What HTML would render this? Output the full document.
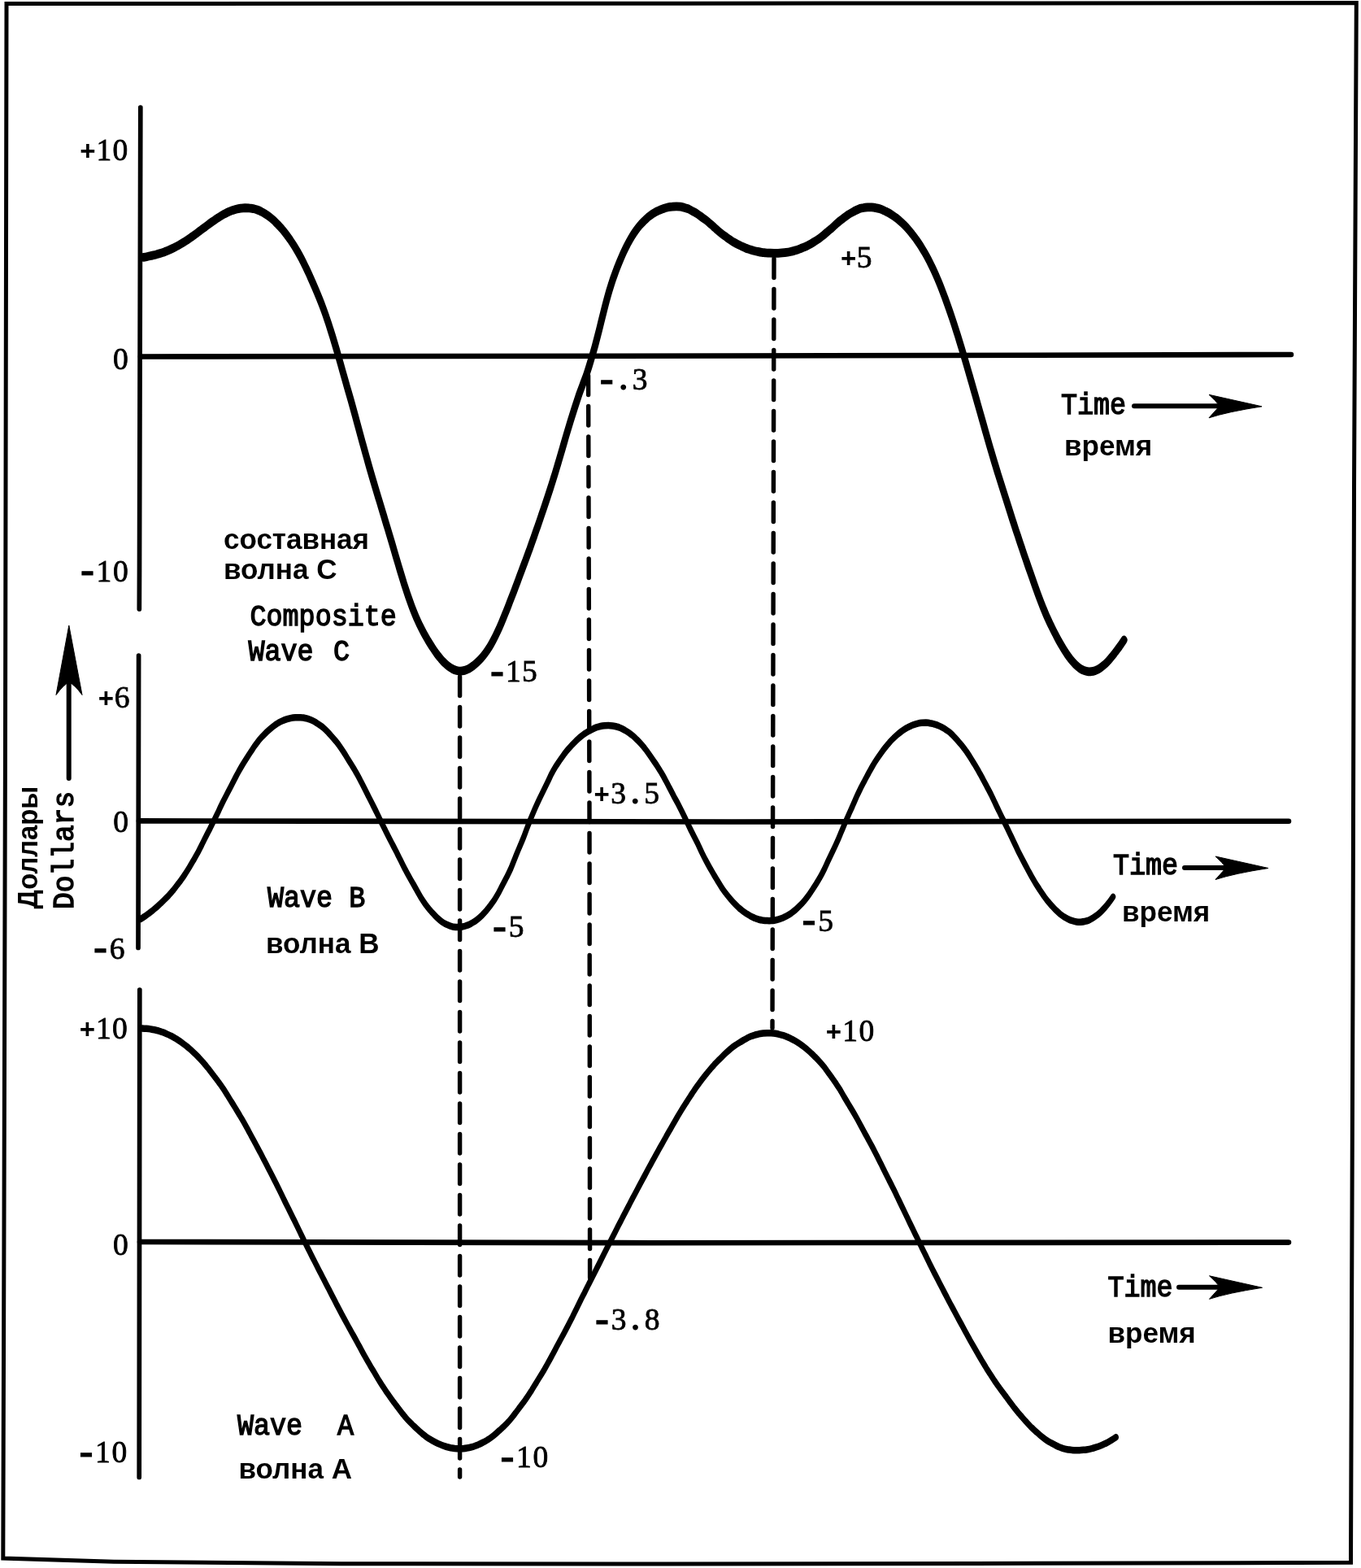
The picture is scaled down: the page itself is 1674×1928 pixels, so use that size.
<!DOCTYPE html>
<html lang="ru">
<head>
<meta charset="utf-8">
<title>Composite Wave C / Wave B / Wave A</title>
<style>
html,body{margin:0;padding:0;background:#fff;}
body{width:1674px;height:1928px;overflow:hidden;}
svg{display:block;}
.fr{fill:none;stroke:#000;stroke-width:5;stroke-linejoin:miter;}
.ax{fill:none;stroke:#000;stroke-width:5.7;stroke-linecap:round;}
.zl{fill:none;stroke:#000;stroke-width:6.6;stroke-linecap:round;}
.cv{fill:none;stroke:#000;stroke-width:8.1;stroke-linecap:round;stroke-linejoin:round;}
.cb{stroke-width:6.4;}
.da{fill:none;stroke:#000;stroke-width:5.4;stroke-linecap:round;stroke-dasharray:23.6 13.9;}
.s6{fill:none;stroke:#000;stroke-width:6;stroke-linecap:round;}
.f{fill:#000;stroke:#000;stroke-width:1;stroke-linejoin:round;}
.m{font-family:"Liberation Mono", monospace;font-size:33.4px;fill:#000;stroke:#000;stroke-width:1.3px;}
.r{font-family:"Liberation Sans", sans-serif;font-size:35px;font-weight:bold;fill:#000;}
.n{font-family:"Liberation Serif",serif;font-size:37.5px;fill:#000;stroke:#000;stroke-width:0.8px;}
.hy{font-family:"Liberation Sans",sans-serif;font-size:54px;stroke-width:1px;}
.pl{font-family:"Liberation Sans",sans-serif;font-weight:bold;font-size:33px;stroke-width:0;}
.dt{font-size:58px;stroke-width:0;}
</style>
</head>
<body>
<svg width="1674" height="1928" viewBox="0 0 1674 1928">
<rect x="0" y="0" width="1674" height="1928" fill="#fff"/>
<path class="fr" d="M8 4.5 L840 4.2 L1668.3 3.6 L1665.5 600 L1664 1200 L1661.5 1921.3 L1200 1922.5 L820 1923 L420 1922.7 L140 1920.2 L3.8 1916 L5 1500 L6.5 900 Z"/>
<path class="ax" d="M172.8 132 L171.5 700 L171.3 749"/>
<path class="ax" d="M170.6 806 L170 1165.5"/>
<path class="ax" d="M171.8 1217 L171.2 1816.5"/>
<path class="zl" d="M173 438.5 L900 437.5 L1588 436"/>
<path class="zl" d="M171 1009.4 L900 1010.5 L1585 1009.7"/>
<path class="zl" d="M172 1527 L800 1528.2 L1585 1527.6"/>
<path class="da" d="M565.6 832 L565.6 1816"/>
<path class="da" d="M723.6 462 L725 1000 L725.6 1571"/>
<path class="da" d="M952 318 L950 1264"/>
<g transform="scale(1 1.330)">
<path class="cv" d="M176.3 237.9 C177.1 237.8 179.6 237.5 181.3 237.2 C183.0 237.0 184.6 236.7 186.3 236.4 C188.0 236.1 189.6 235.8 191.3 235.5 C193.0 235.1 194.7 234.8 196.3 234.4 C198.0 234.0 199.7 233.7 201.3 233.2 C203.0 232.8 204.7 232.2 206.3 231.7 C208.0 231.2 209.7 230.6 211.3 230.0 C213.0 229.4 214.7 228.8 216.3 228.1 C218.0 227.4 219.7 226.7 221.3 226.0 C223.0 225.3 224.7 224.6 226.3 223.8 C228.0 223.0 229.7 222.1 231.4 221.3 C233.0 220.4 234.7 219.6 236.4 218.7 C238.0 217.9 239.7 216.9 241.4 216.0 C243.0 215.1 244.7 214.1 246.4 213.2 C248.0 212.2 249.7 211.3 251.4 210.4 C253.0 209.4 254.7 208.4 256.4 207.5 C258.0 206.6 259.7 205.7 261.4 204.8 C263.1 204.0 264.7 203.0 266.4 202.2 C268.1 201.4 269.7 200.6 271.4 199.8 C273.1 199.1 274.7 198.3 276.4 197.7 C278.1 197.0 279.7 196.4 281.4 195.8 C283.1 195.3 284.7 194.8 286.4 194.3 C288.1 193.9 289.7 193.5 291.4 193.2 C293.1 192.9 294.8 192.7 296.4 192.5 C298.1 192.4 299.8 192.3 301.4 192.2 C303.1 192.2 304.8 192.2 306.4 192.4 C308.1 192.5 309.8 192.7 311.4 192.9 C313.1 193.2 314.8 193.6 316.4 194.0 C318.1 194.5 319.8 195.0 321.4 195.7 C323.1 196.3 324.8 197.0 326.4 197.8 C328.1 198.6 329.8 199.5 331.5 200.5 C333.1 201.4 334.8 202.5 336.5 203.6 C338.1 204.8 339.8 206.0 341.5 207.3 C343.1 208.6 344.8 209.9 346.5 211.4 C348.1 212.9 349.8 214.4 351.5 216.1 C353.1 217.7 354.8 219.4 356.5 221.2 C358.1 223.0 359.8 224.9 361.5 226.9 C363.2 228.9 364.8 231.0 366.5 233.2 C368.2 235.4 369.8 237.7 371.5 240.1 C373.2 242.5 374.8 245.1 376.5 247.7 C378.2 250.3 379.8 253.1 381.5 255.9 C383.2 258.7 384.8 261.6 386.5 264.5 C388.2 267.4 389.8 270.3 391.5 273.4 C393.2 276.5 394.9 279.6 396.5 282.9 C398.2 286.3 399.9 289.7 401.5 293.4 C403.2 297.0 404.9 300.9 406.5 304.9 C408.2 308.8 409.9 312.9 411.5 317.1 C413.2 321.3 414.9 325.7 416.5 330.1 C418.2 334.5 419.9 339.0 421.5 343.4 C423.2 347.9 424.9 352.2 426.5 356.7 C428.2 361.1 429.9 365.4 431.6 369.9 C433.2 374.4 434.9 379.0 436.6 383.6 C438.2 388.2 439.9 392.9 441.6 397.5 C443.2 402.1 444.9 406.6 446.6 411.2 C448.2 415.7 449.9 420.3 451.6 424.7 C453.2 429.2 454.9 433.6 456.6 438.0 C458.2 442.3 459.9 446.5 461.6 450.7 C463.3 454.9 464.9 459.1 466.6 463.2 C468.3 467.4 469.9 471.6 471.6 475.7 C473.3 479.9 474.9 484.1 476.6 488.2 C478.3 492.4 479.9 496.5 481.6 500.8 C483.3 505.0 484.9 509.4 486.6 513.7 C488.3 517.9 489.9 522.2 491.6 526.4 C493.3 530.6 495.0 534.8 496.6 538.8 C498.3 542.8 500.0 546.6 501.6 550.3 C503.3 553.9 505.0 557.5 506.6 560.8 C508.3 564.2 510.0 567.3 511.6 570.2 C513.3 573.2 515.0 575.8 516.6 578.4 C518.3 581.0 520.0 583.4 521.6 585.7 C523.3 588.0 525.0 590.2 526.6 592.3 C528.3 594.4 530.0 596.5 531.7 598.4 C533.3 600.3 535.0 602.2 536.7 603.9 C538.3 605.6 540.0 607.2 541.7 608.7 C543.3 610.2 545.0 611.6 546.7 612.8 C548.3 614.0 550.0 615.1 551.7 616.1 C553.3 617.0 555.0 617.8 556.7 618.5 C558.3 619.1 560.0 619.6 561.7 619.9 C563.4 620.2 565.0 620.4 566.7 620.4 C568.4 620.4 570.0 620.1 571.7 619.8 C573.4 619.4 575.0 618.8 576.7 618.2 C578.4 617.5 580.0 616.6 581.7 615.7 C583.4 614.7 585.0 613.7 586.7 612.5 C588.4 611.3 590.0 610.1 591.7 608.7 C593.4 607.3 595.0 605.8 596.7 604.1 C598.4 602.4 600.1 600.6 601.7 598.6 C603.4 596.6 605.1 594.3 606.7 592.0 C608.4 589.6 610.1 587.1 611.7 584.4 C613.4 581.8 615.1 578.9 616.7 576.0 C618.4 573.0 620.1 569.9 621.7 566.8 C623.4 563.7 625.1 560.5 626.7 557.2 C628.4 554.0 630.1 550.7 631.8 547.4 C633.4 544.1 635.1 540.7 636.8 537.4 C638.4 534.0 640.1 530.6 641.8 527.3 C643.4 523.9 645.1 520.6 646.8 517.2 C648.4 513.9 650.1 510.4 651.8 507.0 C653.4 503.5 655.1 499.9 656.8 496.4 C658.4 492.8 660.1 489.2 661.8 485.5 C663.5 481.9 665.1 478.2 666.8 474.5 C668.5 470.8 670.1 467.1 671.8 463.3 C673.5 459.5 675.1 455.8 676.8 451.9 C678.5 448.0 680.1 444.0 681.8 440.0 C683.5 435.9 685.1 431.7 686.8 427.4 C688.5 423.2 690.1 418.9 691.8 414.6 C693.5 410.3 695.1 405.9 696.8 401.6 C698.5 397.4 700.2 393.2 701.8 389.1 C703.5 385.0 705.2 381.1 706.8 377.2 C708.5 373.3 710.2 369.4 711.8 365.7 C713.5 362.1 715.2 358.8 716.8 355.4 C718.5 352.0 720.2 348.9 721.8 345.2 C723.5 341.4 725.2 337.3 726.8 333.1 C728.5 328.8 730.2 324.4 731.9 319.8 C733.5 315.1 735.2 310.3 736.9 305.3 C738.5 300.4 740.2 295.1 741.9 290.1 C743.5 285.2 745.2 280.1 746.9 275.5 C748.5 270.9 750.2 266.7 751.9 262.8 C753.5 258.8 755.2 255.3 756.9 251.9 C758.5 248.5 760.2 245.3 761.9 242.2 C763.6 239.1 765.2 236.2 766.9 233.4 C768.6 230.7 770.2 228.2 771.9 225.8 C773.6 223.4 775.2 221.1 776.9 219.1 C778.6 217.0 780.2 215.2 781.9 213.4 C783.6 211.6 785.2 210.0 786.9 208.5 C788.6 207.0 790.2 205.7 791.9 204.5 C793.6 203.2 795.2 202.0 796.9 200.9 C798.6 199.9 800.3 199.0 801.9 198.1 C803.6 197.3 805.3 196.5 806.9 195.8 C808.6 195.2 810.3 194.6 811.9 194.1 C813.6 193.5 815.3 193.0 816.9 192.6 C818.6 192.2 820.3 191.9 821.9 191.6 C823.6 191.3 825.3 191.1 826.9 191.0 C828.6 190.8 830.3 190.8 832.0 190.8 C833.6 190.8 835.3 190.9 837.0 191.1 C838.6 191.3 840.3 191.7 842.0 192.0 C843.6 192.4 845.3 192.7 847.0 193.2 C848.6 193.8 850.3 194.6 852.0 195.3 C853.6 196.0 855.3 196.6 857.0 197.4 C858.6 198.2 860.3 199.2 862.0 200.1 C863.7 201.0 865.3 201.9 867.0 202.8 C868.7 203.8 870.3 204.8 872.0 205.9 C873.7 206.9 875.3 208.0 877.0 209.1 C878.7 210.2 880.3 211.4 882.0 212.5 C883.7 213.7 885.3 214.7 887.0 215.7 C888.7 216.7 890.3 217.6 892.0 218.5 C893.7 219.4 895.3 220.3 897.0 221.2 C898.7 222.0 900.4 222.9 902.0 223.7 C903.7 224.4 905.4 225.1 907.0 225.7 C908.7 226.4 910.4 227.0 912.0 227.6 C913.7 228.2 915.4 228.7 917.0 229.3 C918.7 229.8 920.4 230.2 922.0 230.6 C923.7 231.0 925.4 231.4 927.0 231.8 C928.7 232.1 930.4 232.4 932.1 232.6 C933.7 232.9 935.4 233.2 937.1 233.3 C938.7 233.5 940.4 233.6 942.1 233.8 C943.7 233.9 945.4 233.9 947.1 234.0 C948.7 234.1 950.4 234.1 952.1 234.1 C953.7 234.1 955.4 234.1 957.1 234.1 C958.7 234.0 960.4 233.9 962.1 233.8 C963.8 233.7 965.4 233.6 967.1 233.4 C968.8 233.2 970.4 233.0 972.1 232.7 C973.8 232.4 975.4 232.1 977.1 231.7 C978.8 231.4 980.4 231.0 982.1 230.6 C983.8 230.1 985.4 229.7 987.1 229.1 C988.8 228.6 990.4 228.1 992.1 227.5 C993.8 226.9 995.4 226.2 997.1 225.5 C998.8 224.8 1000.5 224.0 1002.1 223.2 C1003.8 222.5 1005.5 221.7 1007.1 220.8 C1008.8 219.9 1010.5 218.9 1012.1 217.9 C1013.8 216.9 1015.5 215.8 1017.1 214.7 C1018.8 213.7 1020.5 212.7 1022.1 211.6 C1023.8 210.5 1025.5 209.3 1027.1 208.1 C1028.8 207.0 1030.5 205.7 1032.2 204.7 C1033.8 203.6 1035.5 202.7 1037.2 201.8 C1038.8 200.8 1040.5 199.9 1042.2 199.0 C1043.8 198.2 1045.5 197.4 1047.2 196.7 C1048.8 196.0 1050.5 195.3 1052.2 194.7 C1053.8 194.1 1055.5 193.4 1057.2 192.9 C1058.8 192.5 1060.5 192.3 1062.2 192.1 C1063.8 191.8 1065.5 191.7 1067.2 191.6 C1068.9 191.6 1070.5 191.6 1072.2 191.6 C1073.9 191.7 1075.5 191.9 1077.2 192.2 C1078.9 192.4 1080.5 192.7 1082.2 193.1 C1083.9 193.5 1085.5 194.0 1087.2 194.6 C1088.9 195.1 1090.5 195.8 1092.2 196.5 C1093.9 197.2 1095.5 197.9 1097.2 198.7 C1098.9 199.5 1100.6 200.4 1102.2 201.4 C1103.9 202.3 1105.6 203.4 1107.2 204.5 C1108.9 205.6 1110.6 206.7 1112.2 208.0 C1113.9 209.2 1115.6 210.6 1117.2 212.0 C1118.9 213.5 1120.6 215.0 1122.2 216.6 C1123.9 218.2 1125.6 219.8 1127.2 221.6 C1128.9 223.4 1130.6 225.2 1132.3 227.2 C1133.9 229.2 1135.6 231.3 1137.3 233.5 C1138.9 235.6 1140.6 237.9 1142.3 240.3 C1143.9 242.7 1145.6 245.3 1147.3 247.9 C1148.9 250.6 1150.6 253.3 1152.3 256.3 C1153.9 259.2 1155.6 262.2 1157.3 265.4 C1158.9 268.6 1160.6 271.9 1162.3 275.3 C1163.9 278.7 1165.6 282.2 1167.3 285.8 C1169.0 289.4 1170.6 293.1 1172.3 296.9 C1174.0 300.7 1175.6 304.6 1177.3 308.6 C1179.0 312.6 1180.6 316.7 1182.3 320.8 C1184.0 325.0 1185.6 329.2 1187.3 333.4 C1189.0 337.7 1190.6 342.0 1192.3 346.4 C1194.0 350.7 1195.6 355.2 1197.3 359.6 C1199.0 364.0 1200.7 368.4 1202.3 372.8 C1204.0 377.2 1205.7 381.6 1207.3 386.0 C1209.0 390.4 1210.7 395.0 1212.3 399.4 C1214.0 403.8 1215.7 408.2 1217.3 412.5 C1219.0 416.8 1220.7 421.0 1222.3 425.2 C1224.0 429.4 1225.7 433.5 1227.3 437.6 C1229.0 441.7 1230.7 445.7 1232.4 449.7 C1234.0 453.6 1235.7 457.5 1237.4 461.5 C1239.0 465.4 1240.7 469.4 1242.4 473.4 C1244.0 477.3 1245.7 481.3 1247.4 485.1 C1249.0 489.0 1250.7 492.8 1252.4 496.5 C1254.0 500.3 1255.7 504.0 1257.4 507.8 C1259.0 511.5 1260.7 515.2 1262.4 518.8 C1264.0 522.5 1265.7 526.1 1267.4 529.6 C1269.1 533.2 1270.7 536.8 1272.4 540.4 C1274.1 543.9 1275.7 547.5 1277.4 550.9 C1279.1 554.3 1280.7 557.5 1282.4 560.6 C1284.1 563.7 1285.7 566.8 1287.4 569.7 C1289.1 572.5 1290.7 575.2 1292.4 577.8 C1294.1 580.4 1295.7 582.9 1297.4 585.4 C1299.1 587.8 1300.8 590.3 1302.4 592.5 C1304.1 594.8 1305.8 596.9 1307.4 598.9 C1309.1 601.0 1310.8 603.0 1312.4 604.9 C1314.1 606.7 1315.8 608.4 1317.4 610.0 C1319.1 611.5 1320.8 612.9 1322.4 614.2 C1324.1 615.4 1325.8 616.5 1327.4 617.4 C1329.1 618.3 1330.8 619.1 1332.5 619.7 C1334.1 620.2 1335.8 620.6 1337.5 620.8 C1339.1 621.0 1340.8 621.0 1342.5 620.8 C1344.1 620.7 1345.8 620.3 1347.5 619.9 C1349.1 619.4 1350.8 618.8 1352.5 618.0 C1354.1 617.2 1355.8 616.2 1357.5 615.1 C1359.1 614.1 1360.8 612.9 1362.5 611.5 C1364.1 610.2 1365.8 608.6 1367.5 607.1 C1369.2 605.6 1370.8 604.0 1372.5 602.4 C1374.2 600.7 1375.8 599.0 1377.5 597.3 C1379.2 595.5 1381.7 592.6 1382.5 591.7"/>
<path class="cv cb" d="M173.0 849.7 C173.8 849.3 176.3 848.1 178.0 847.2 C179.7 846.4 181.3 845.5 183.0 844.5 C184.7 843.6 186.3 842.6 188.0 841.6 C189.7 840.6 191.3 839.5 193.0 838.4 C194.7 837.3 196.4 836.1 198.0 834.9 C199.7 833.7 201.4 832.5 203.0 831.2 C204.7 830.0 206.4 828.8 208.0 827.4 C209.7 826.1 211.4 824.6 213.0 823.1 C214.7 821.6 216.4 819.9 218.0 818.2 C219.7 816.6 221.4 815.0 223.0 813.2 C224.7 811.5 226.4 809.7 228.0 807.7 C229.7 805.8 231.4 803.7 233.1 801.6 C234.7 799.5 236.4 797.4 238.1 795.2 C239.7 793.1 241.4 790.9 243.1 788.6 C244.7 786.2 246.4 783.7 248.1 781.2 C249.7 778.8 251.4 776.1 253.1 773.6 C254.7 771.1 256.4 768.7 258.1 766.3 C259.7 763.8 261.4 761.3 263.1 758.8 C264.7 756.2 266.4 753.6 268.1 751.0 C269.7 748.4 271.4 745.6 273.1 743.0 C274.8 740.4 276.4 738.0 278.1 735.6 C279.8 733.1 281.4 730.8 283.1 728.4 C284.8 726.0 286.4 723.4 288.1 721.0 C289.8 718.6 291.4 716.1 293.1 713.9 C294.8 711.6 296.4 709.4 298.1 707.3 C299.8 705.2 301.4 703.3 303.1 701.3 C304.8 699.3 306.4 697.4 308.1 695.5 C309.8 693.6 311.4 691.6 313.1 689.8 C314.8 688.0 316.5 686.3 318.1 684.7 C319.8 683.2 321.5 681.8 323.1 680.5 C324.8 679.2 326.5 677.9 328.1 676.7 C329.8 675.5 331.5 674.4 333.1 673.4 C334.8 672.3 336.5 671.3 338.1 670.4 C339.8 669.5 341.5 668.7 343.1 668.0 C344.8 667.3 346.5 666.7 348.1 666.2 C349.8 665.6 351.5 665.2 353.2 664.8 C354.8 664.4 356.5 664.1 358.2 663.8 C359.8 663.6 361.5 663.5 363.2 663.4 C364.8 663.3 366.5 663.3 368.2 663.3 C369.8 663.4 371.5 663.4 373.2 663.6 C374.8 663.8 376.5 664.1 378.2 664.4 C379.8 664.8 381.5 665.2 383.2 665.8 C384.8 666.3 386.5 667.0 388.2 667.8 C389.8 668.6 391.5 669.4 393.2 670.3 C394.9 671.2 396.5 672.0 398.2 673.1 C399.9 674.2 401.5 675.4 403.2 676.7 C404.9 678.0 406.5 679.5 408.2 681.0 C409.9 682.4 411.5 683.8 413.2 685.3 C414.9 686.9 416.5 688.5 418.2 690.3 C419.9 692.1 421.5 694.0 423.2 696.0 C424.9 697.9 426.5 700.0 428.2 702.0 C429.9 704.0 431.5 706.0 433.2 708.1 C434.9 710.1 436.6 712.2 438.2 714.4 C439.9 716.6 441.6 719.0 443.2 721.4 C444.9 723.7 446.6 726.2 448.2 728.6 C449.9 731.1 451.6 733.7 453.2 736.2 C454.9 738.7 456.6 741.2 458.2 743.6 C459.9 746.1 461.6 748.6 463.2 751.1 C464.9 753.7 466.6 756.3 468.2 758.9 C469.9 761.5 471.6 764.1 473.3 766.6 C474.9 769.2 476.6 771.7 478.3 774.2 C479.9 776.6 481.6 778.9 483.3 781.4 C484.9 783.8 486.6 786.2 488.3 788.7 C489.9 791.2 491.6 793.7 493.3 796.2 C494.9 798.7 496.6 801.3 498.3 803.7 C499.9 806.1 501.6 808.4 503.3 810.6 C504.9 812.9 506.6 815.0 508.3 817.2 C509.9 819.4 511.6 821.7 513.3 823.9 C515.0 826.1 516.6 828.4 518.3 830.5 C520.0 832.5 521.6 834.3 523.3 836.1 C525.0 837.8 526.6 839.4 528.3 840.9 C530.0 842.4 531.6 843.8 533.3 845.1 C535.0 846.4 536.6 847.8 538.3 848.9 C540.0 850.1 541.6 851.1 543.3 852.0 C545.0 852.9 546.6 853.6 548.3 854.3 C550.0 854.9 551.6 855.4 553.3 855.9 C555.0 856.3 556.7 856.7 558.3 857.0 C560.0 857.2 561.7 857.2 563.3 857.2 C565.0 857.2 566.7 857.1 568.3 856.8 C570.0 856.6 571.7 856.3 573.3 855.8 C575.0 855.4 576.7 854.9 578.3 854.3 C580.0 853.6 581.7 852.9 583.3 852.1 C585.0 851.3 586.7 850.3 588.3 849.3 C590.0 848.2 591.7 847.0 593.4 845.8 C595.0 844.5 596.7 843.1 598.4 841.7 C600.0 840.2 601.7 838.5 603.4 836.9 C605.0 835.2 606.7 833.5 608.4 831.5 C610.0 829.6 611.7 827.5 613.4 825.2 C615.0 822.9 616.7 820.3 618.4 817.9 C620.0 815.4 621.7 813.1 623.4 810.6 C625.0 808.1 626.7 805.7 628.4 802.8 C630.0 799.9 631.7 796.5 633.4 793.4 C635.1 790.3 636.7 787.2 638.4 784.2 C640.1 781.1 641.7 778.4 643.4 775.3 C645.1 772.1 646.7 768.6 648.4 765.3 C650.1 762.1 651.7 758.8 653.4 755.8 C655.1 752.7 656.7 749.8 658.4 746.9 C660.1 744.1 661.7 741.5 663.4 738.8 C665.1 736.1 666.7 733.6 668.4 731.0 C670.1 728.4 671.8 725.8 673.4 723.3 C675.1 720.7 676.8 717.8 678.4 715.4 C680.1 713.0 681.8 710.8 683.4 708.8 C685.1 706.7 686.8 705.0 688.4 703.1 C690.1 701.3 691.8 699.5 693.4 697.8 C695.1 696.1 696.8 694.5 698.4 693.0 C700.1 691.5 701.8 690.2 703.4 688.8 C705.1 687.5 706.8 686.2 708.4 685.0 C710.1 683.8 711.8 682.6 713.5 681.5 C715.1 680.5 716.8 679.5 718.5 678.6 C720.1 677.7 721.8 676.9 723.5 676.2 C725.1 675.5 726.8 674.8 728.5 674.2 C730.1 673.6 731.8 673.0 733.5 672.5 C735.1 672.1 736.8 671.7 738.5 671.4 C740.1 671.1 741.8 670.9 743.5 670.8 C745.1 670.7 746.8 670.6 748.5 670.6 C750.1 670.6 751.8 670.8 753.5 671.0 C755.2 671.2 756.8 671.4 758.5 671.8 C760.2 672.1 761.8 672.6 763.5 673.1 C765.2 673.7 766.8 674.4 768.5 675.1 C770.2 675.8 771.8 676.5 773.5 677.4 C775.2 678.3 776.8 679.2 778.5 680.3 C780.2 681.4 781.8 682.6 783.5 683.9 C785.2 685.1 786.8 686.4 788.5 687.8 C790.2 689.2 791.9 690.7 793.5 692.3 C795.2 693.9 796.9 695.7 798.5 697.4 C800.2 699.2 801.9 701.1 803.5 702.9 C805.2 704.8 806.9 706.5 808.5 708.4 C810.2 710.4 811.9 712.4 813.5 714.5 C815.2 716.6 816.9 718.9 818.5 721.2 C820.2 723.5 821.9 726.0 823.5 728.4 C825.2 730.8 826.9 733.3 828.5 735.7 C830.2 738.1 831.9 740.3 833.6 742.7 C835.2 745.1 836.9 747.6 838.6 750.1 C840.2 752.6 841.9 755.2 843.6 757.8 C845.2 760.4 846.9 763.1 848.6 765.7 C850.2 768.2 851.9 770.7 853.6 773.2 C855.2 775.6 856.9 778.1 858.6 780.6 C860.2 783.2 861.9 786.1 863.6 788.7 C865.2 791.2 866.9 793.7 868.6 796.1 C870.2 798.4 871.9 800.7 873.6 802.9 C875.3 805.1 876.9 807.3 878.6 809.4 C880.3 811.5 881.9 813.5 883.6 815.6 C885.3 817.6 886.9 819.8 888.6 821.6 C890.3 823.5 891.9 825.1 893.6 826.7 C895.3 828.3 896.9 829.8 898.6 831.3 C900.3 832.8 901.9 834.2 903.6 835.5 C905.3 836.8 906.9 838.0 908.6 839.2 C910.3 840.3 912.0 841.3 913.6 842.3 C915.3 843.2 917.0 844.1 918.6 844.9 C920.3 845.7 922.0 846.5 923.6 847.1 C925.3 847.8 927.0 848.3 928.6 848.9 C930.3 849.4 932.0 849.8 933.6 850.2 C935.3 850.5 937.0 850.7 938.6 850.9 C940.3 851.1 942.0 851.2 943.6 851.2 C945.3 851.3 947.0 851.3 948.6 851.2 C950.3 851.1 952.0 850.9 953.7 850.7 C955.3 850.4 957.0 850.1 958.7 849.7 C960.3 849.3 962.0 848.9 963.7 848.3 C965.3 847.7 967.0 847.1 968.7 846.3 C970.3 845.6 972.0 844.8 973.7 843.9 C975.3 843.0 977.0 842.0 978.7 841.0 C980.3 839.9 982.0 838.7 983.7 837.4 C985.3 836.2 987.0 834.9 988.7 833.4 C990.4 831.9 992.0 830.3 993.7 828.6 C995.4 826.9 997.0 825.0 998.7 823.1 C1000.4 821.2 1002.0 819.3 1003.7 817.3 C1005.4 815.2 1007.0 813.2 1008.7 811.0 C1010.4 808.7 1012.0 806.4 1013.7 803.8 C1015.4 801.3 1017.0 798.4 1018.7 795.7 C1020.4 793.0 1022.0 790.5 1023.7 787.8 C1025.4 785.2 1027.0 782.6 1028.7 779.8 C1030.4 777.0 1032.1 774.0 1033.7 771.0 C1035.4 768.1 1037.1 765.0 1038.7 762.0 C1040.4 759.1 1042.1 756.2 1043.7 753.4 C1045.4 750.5 1047.1 747.9 1048.7 745.0 C1050.4 742.2 1052.1 739.2 1053.7 736.4 C1055.4 733.6 1057.1 731.0 1058.7 728.5 C1060.4 726.0 1062.1 723.6 1063.7 721.3 C1065.4 718.9 1067.1 716.6 1068.7 714.3 C1070.4 712.0 1072.1 709.6 1073.8 707.5 C1075.4 705.4 1077.1 703.4 1078.8 701.5 C1080.4 699.7 1082.1 697.9 1083.8 696.1 C1085.4 694.4 1087.1 692.7 1088.8 691.1 C1090.4 689.5 1092.1 688.0 1093.8 686.6 C1095.4 685.1 1097.1 683.8 1098.8 682.6 C1100.4 681.4 1102.1 680.2 1103.8 679.1 C1105.4 678.1 1107.1 677.1 1108.8 676.1 C1110.5 675.2 1112.1 674.4 1113.8 673.6 C1115.5 672.8 1117.1 672.2 1118.8 671.6 C1120.5 671.0 1122.1 670.4 1123.8 670.0 C1125.5 669.6 1127.1 669.2 1128.8 668.9 C1130.5 668.6 1132.1 668.4 1133.8 668.3 C1135.5 668.2 1137.1 668.1 1138.8 668.1 C1140.5 668.2 1142.1 668.3 1143.8 668.6 C1145.5 668.8 1147.1 669.1 1148.8 669.4 C1150.5 669.8 1152.2 670.1 1153.8 670.7 C1155.5 671.2 1157.2 671.8 1158.8 672.5 C1160.5 673.2 1162.2 673.9 1163.8 674.8 C1165.5 675.6 1167.2 676.4 1168.8 677.5 C1170.5 678.6 1172.2 679.9 1173.8 681.3 C1175.5 682.6 1177.2 684.0 1178.8 685.5 C1180.5 686.9 1182.2 688.3 1183.8 689.9 C1185.5 691.5 1187.2 693.1 1188.8 694.9 C1190.5 696.7 1192.2 698.8 1193.9 700.8 C1195.5 702.8 1197.2 704.8 1198.9 706.9 C1200.5 708.9 1202.2 711.1 1203.9 713.3 C1205.5 715.5 1207.2 717.9 1208.9 720.2 C1210.5 722.5 1212.2 724.8 1213.9 727.2 C1215.5 729.5 1217.2 731.9 1218.9 734.4 C1220.5 736.9 1222.2 739.7 1223.9 742.3 C1225.5 745.0 1227.2 747.6 1228.9 750.2 C1230.6 752.8 1232.2 755.4 1233.9 757.9 C1235.6 760.5 1237.2 763.0 1238.9 765.6 C1240.6 768.2 1242.2 770.8 1243.9 773.4 C1245.6 776.1 1247.2 778.7 1248.9 781.4 C1250.6 784.0 1252.2 786.7 1253.9 789.2 C1255.6 791.7 1257.2 794.0 1258.9 796.4 C1260.6 798.8 1262.2 801.1 1263.9 803.5 C1265.6 805.8 1267.2 808.2 1268.9 810.4 C1270.6 812.6 1272.3 814.8 1273.9 816.9 C1275.6 818.9 1277.3 820.8 1278.9 822.7 C1280.6 824.6 1282.3 826.5 1283.9 828.3 C1285.6 830.1 1287.3 831.7 1288.9 833.3 C1290.6 834.8 1292.3 836.2 1293.9 837.6 C1295.6 839.0 1297.3 840.4 1298.9 841.6 C1300.6 842.8 1302.3 844.0 1303.9 845.0 C1305.6 846.0 1307.3 846.9 1308.9 847.7 C1310.6 848.5 1312.3 849.2 1314.0 849.8 C1315.6 850.4 1317.3 850.9 1319.0 851.3 C1320.6 851.7 1322.3 852.0 1324.0 852.2 C1325.6 852.4 1327.3 852.4 1329.0 852.4 C1330.6 852.3 1332.3 852.2 1334.0 851.9 C1335.6 851.6 1337.3 851.3 1339.0 850.8 C1340.6 850.2 1342.3 849.6 1344.0 848.8 C1345.6 848.1 1347.3 847.2 1349.0 846.2 C1350.7 845.3 1352.3 844.2 1354.0 843.0 C1355.7 841.8 1357.3 840.4 1359.0 839.0 C1360.7 837.6 1362.3 836.1 1364.0 834.4 C1365.7 832.8 1368.2 830.0 1369.0 829.1"/>
<path class="cv cb" d="M175.0 950.8 C175.8 950.9 178.3 950.9 180.0 951.0 C181.7 951.1 183.3 951.2 185.0 951.4 C186.6 951.6 188.3 951.8 190.0 952.1 C191.6 952.4 193.3 952.7 195.0 953.0 C196.6 953.4 198.3 953.8 200.0 954.3 C201.6 954.7 203.3 955.2 204.9 955.8 C206.6 956.3 208.3 956.9 209.9 957.6 C211.6 958.2 213.3 958.9 214.9 959.6 C216.6 960.4 218.3 961.1 219.9 962.0 C221.6 962.8 223.2 963.7 224.9 964.6 C226.6 965.5 228.2 966.5 229.9 967.5 C231.6 968.5 233.2 969.6 234.9 970.7 C236.5 971.8 238.2 973.0 239.9 974.2 C241.5 975.4 243.2 976.7 244.9 978.0 C246.5 979.3 248.2 980.7 249.9 982.1 C251.5 983.5 253.2 985.0 254.8 986.6 C256.5 988.1 258.2 989.7 259.8 991.3 C261.5 993.0 263.2 994.6 264.8 996.3 C266.5 998.0 268.2 999.6 269.8 1001.4 C271.5 1003.1 273.1 1004.9 274.8 1006.7 C276.5 1008.6 278.1 1010.6 279.8 1012.6 C281.5 1014.6 283.1 1016.7 284.8 1018.7 C286.5 1020.7 288.1 1022.7 289.8 1024.8 C291.4 1026.8 293.1 1028.9 294.8 1031.0 C296.4 1033.1 298.1 1035.2 299.8 1037.4 C301.4 1039.6 303.1 1041.9 304.8 1044.2 C306.4 1046.5 308.1 1048.8 309.7 1051.1 C311.4 1053.4 313.1 1055.7 314.7 1058.0 C316.4 1060.4 318.1 1062.7 319.7 1065.1 C321.4 1067.4 323.0 1069.8 324.7 1072.3 C326.4 1074.7 328.0 1077.1 329.7 1079.6 C331.4 1082.0 333.0 1084.5 334.7 1086.9 C336.4 1089.4 338.0 1091.8 339.7 1094.3 C341.3 1096.8 343.0 1099.3 344.7 1101.9 C346.3 1104.4 348.0 1107.1 349.7 1109.7 C351.3 1112.2 353.0 1114.7 354.7 1117.2 C356.3 1119.7 358.0 1122.2 359.6 1124.7 C361.3 1127.3 363.0 1129.8 364.6 1132.3 C366.3 1134.9 368.0 1137.5 369.6 1140.1 C371.3 1142.7 373.0 1145.3 374.6 1147.9 C376.3 1150.4 377.9 1152.9 379.6 1155.4 C381.3 1157.8 382.9 1160.3 384.6 1162.8 C386.3 1165.3 387.9 1167.8 389.6 1170.2 C391.3 1172.7 392.9 1175.1 394.6 1177.5 C396.2 1180.0 397.9 1182.4 399.6 1184.8 C401.2 1187.2 402.9 1189.6 404.6 1192.0 C406.2 1194.5 407.9 1196.9 409.5 1199.3 C411.2 1201.7 412.9 1204.2 414.5 1206.6 C416.2 1209.0 417.9 1211.4 419.5 1213.7 C421.2 1216.1 422.9 1218.4 424.5 1220.7 C426.2 1223.0 427.8 1225.3 429.5 1227.6 C431.2 1229.8 432.8 1232.1 434.5 1234.3 C436.2 1236.6 437.8 1238.8 439.5 1241.1 C441.2 1243.4 442.8 1245.8 444.5 1248.1 C446.1 1250.4 447.8 1252.7 449.5 1254.9 C451.1 1257.1 452.8 1259.3 454.5 1261.4 C456.1 1263.6 457.8 1265.7 459.5 1267.7 C461.1 1269.8 462.8 1272.0 464.4 1274.0 C466.1 1276.0 467.8 1278.1 469.4 1280.0 C471.1 1282.0 472.8 1283.9 474.4 1285.8 C476.1 1287.7 477.8 1289.4 479.4 1291.2 C481.1 1293.0 482.7 1294.7 484.4 1296.4 C486.1 1298.0 487.7 1299.7 489.4 1301.3 C491.1 1303.0 492.7 1304.7 494.4 1306.3 C496.1 1307.9 497.7 1309.5 499.4 1310.9 C501.0 1312.4 502.7 1313.7 504.4 1314.9 C506.0 1316.2 507.7 1317.4 509.4 1318.6 C511.0 1319.8 512.7 1320.9 514.3 1322.0 C516.0 1323.2 517.7 1324.3 519.3 1325.4 C521.0 1326.4 522.7 1327.5 524.3 1328.4 C526.0 1329.3 527.7 1330.1 529.3 1330.8 C531.0 1331.6 532.6 1332.3 534.3 1332.9 C536.0 1333.6 537.6 1334.2 539.3 1334.8 C541.0 1335.3 542.6 1335.9 544.3 1336.3 C546.0 1336.8 547.6 1337.2 549.3 1337.6 C550.9 1337.9 552.6 1338.2 554.3 1338.5 C555.9 1338.7 557.6 1338.9 559.3 1339.1 C560.9 1339.2 562.6 1339.3 564.3 1339.3 C565.9 1339.3 567.6 1339.3 569.2 1339.2 C570.9 1339.1 572.6 1339.0 574.2 1338.7 C575.9 1338.5 577.6 1338.3 579.2 1338.0 C580.9 1337.7 582.6 1337.3 584.2 1336.8 C585.9 1336.4 587.5 1335.9 589.2 1335.3 C590.9 1334.8 592.5 1334.2 594.2 1333.5 C595.9 1332.9 597.5 1332.2 599.2 1331.4 C600.8 1330.6 602.5 1329.8 604.2 1328.8 C605.8 1327.9 607.5 1326.9 609.2 1325.8 C610.8 1324.8 612.5 1323.6 614.2 1322.5 C615.8 1321.4 617.5 1320.3 619.1 1319.1 C620.8 1317.9 622.5 1316.7 624.1 1315.4 C625.8 1314.1 627.5 1312.6 629.1 1311.1 C630.8 1309.5 632.5 1307.9 634.1 1306.2 C635.8 1304.6 637.4 1302.9 639.1 1301.2 C640.8 1299.6 642.4 1298.0 644.1 1296.3 C645.8 1294.5 647.4 1292.8 649.1 1290.9 C650.8 1289.1 652.4 1287.1 654.1 1285.1 C655.7 1283.1 657.4 1281.0 659.1 1279.0 C660.7 1276.9 662.4 1274.9 664.1 1272.8 C665.7 1270.8 667.4 1268.8 669.1 1266.7 C670.7 1264.5 672.4 1262.4 674.0 1260.1 C675.7 1257.9 677.4 1255.5 679.0 1253.2 C680.7 1250.8 682.4 1248.5 684.0 1246.1 C685.7 1243.8 687.3 1241.4 689.0 1239.1 C690.7 1236.8 692.3 1234.4 694.0 1232.1 C695.7 1229.7 697.3 1227.4 699.0 1225.0 C700.7 1222.6 702.3 1220.2 704.0 1217.7 C705.6 1215.2 707.3 1212.6 709.0 1210.1 C710.6 1207.6 712.3 1205.0 714.0 1202.4 C715.6 1199.9 717.3 1197.5 719.0 1195.0 C720.6 1192.5 722.3 1190.0 723.9 1187.6 C725.6 1185.1 727.3 1182.6 728.9 1180.2 C730.6 1177.7 732.3 1175.2 733.9 1172.7 C735.6 1170.3 737.3 1167.8 738.9 1165.3 C740.6 1162.8 742.2 1160.3 743.9 1157.8 C745.6 1155.3 747.2 1152.8 748.9 1150.4 C750.6 1147.9 752.2 1145.4 753.9 1143.0 C755.6 1140.5 757.2 1138.1 758.9 1135.6 C760.5 1133.2 762.2 1130.8 763.9 1128.4 C765.5 1125.9 767.2 1123.5 768.9 1121.1 C770.5 1118.7 772.2 1116.3 773.9 1113.9 C775.5 1111.5 777.2 1109.1 778.8 1106.7 C780.5 1104.4 782.2 1102.0 783.8 1099.7 C785.5 1097.3 787.2 1095.0 788.8 1092.6 C790.5 1090.3 792.1 1087.9 793.8 1085.6 C795.5 1083.2 797.1 1080.9 798.8 1078.6 C800.5 1076.3 802.1 1073.9 803.8 1071.7 C805.5 1069.4 807.1 1067.1 808.8 1064.9 C810.4 1062.6 812.1 1060.4 813.8 1058.2 C815.4 1056.0 817.1 1053.7 818.8 1051.5 C820.4 1049.3 822.1 1047.1 823.8 1044.9 C825.4 1042.8 827.1 1040.6 828.7 1038.4 C830.4 1036.2 832.1 1034.0 833.7 1031.9 C835.4 1029.8 837.1 1027.7 838.7 1025.7 C840.4 1023.6 842.1 1021.7 843.7 1019.7 C845.4 1017.7 847.0 1015.8 848.7 1013.9 C850.4 1012.0 852.0 1010.0 853.7 1008.2 C855.4 1006.3 857.0 1004.6 858.7 1002.9 C860.4 1001.1 862.0 999.5 863.7 997.8 C865.3 996.2 867.0 994.6 868.7 993.0 C870.3 991.4 872.0 989.9 873.7 988.4 C875.3 987.0 877.0 985.6 878.6 984.2 C880.3 982.9 882.0 981.6 883.6 980.3 C885.3 979.1 887.0 977.8 888.6 976.6 C890.3 975.3 892.0 974.1 893.6 973.0 C895.3 971.8 896.9 970.7 898.6 969.6 C900.3 968.6 901.9 967.7 903.6 966.8 C905.3 965.9 906.9 965.1 908.6 964.3 C910.3 963.5 911.9 962.7 913.6 962.0 C915.2 961.3 916.9 960.5 918.6 959.9 C920.2 959.2 921.9 958.6 923.6 958.1 C925.2 957.6 926.9 957.2 928.6 956.8 C930.2 956.5 931.9 956.2 933.5 955.9 C935.2 955.7 936.9 955.5 938.5 955.3 C940.2 955.2 941.9 955.1 943.5 955.0 C945.2 955.0 946.9 955.0 948.5 955.1 C950.2 955.2 951.8 955.3 953.5 955.5 C955.2 955.7 956.8 955.9 958.5 956.3 C960.2 956.6 961.8 956.9 963.5 957.3 C965.1 957.7 966.8 958.2 968.5 958.7 C970.1 959.3 971.8 959.8 973.5 960.5 C975.1 961.1 976.8 961.8 978.5 962.5 C980.1 963.2 981.8 964.0 983.4 964.8 C985.1 965.7 986.8 966.6 988.4 967.6 C990.1 968.6 991.8 969.6 993.4 970.7 C995.1 971.8 996.8 972.9 998.4 974.1 C1000.1 975.3 1001.7 976.5 1003.4 977.7 C1005.1 979.0 1006.7 980.3 1008.4 981.7 C1010.1 983.1 1011.7 984.5 1013.4 986.1 C1015.1 987.7 1016.7 989.6 1018.4 991.3 C1020.0 993.0 1021.7 994.7 1023.4 996.4 C1025.0 998.2 1026.7 999.9 1028.4 1001.8 C1030.0 1003.7 1031.7 1005.6 1033.4 1007.6 C1035.0 1009.7 1036.7 1011.9 1038.3 1014.1 C1040.0 1016.2 1041.7 1018.3 1043.3 1020.4 C1045.0 1022.5 1046.7 1024.5 1048.3 1026.6 C1050.0 1028.8 1051.6 1030.9 1053.3 1033.1 C1055.0 1035.3 1056.6 1037.7 1058.3 1040.0 C1060.0 1042.3 1061.6 1044.6 1063.3 1047.0 C1065.0 1049.3 1066.6 1051.6 1068.3 1053.9 C1069.9 1056.2 1071.6 1058.5 1073.3 1060.8 C1074.9 1063.2 1076.6 1065.6 1078.3 1068.1 C1079.9 1070.5 1081.6 1073.1 1083.3 1075.6 C1084.9 1078.1 1086.6 1080.6 1088.2 1083.1 C1089.9 1085.6 1091.6 1088.1 1093.2 1090.6 C1094.9 1093.1 1096.6 1095.5 1098.2 1098.1 C1099.9 1100.6 1101.6 1103.2 1103.2 1105.8 C1104.9 1108.4 1106.5 1111.0 1108.2 1113.6 C1109.9 1116.2 1111.5 1118.8 1113.2 1121.4 C1114.9 1124.0 1116.5 1126.6 1118.2 1129.3 C1119.9 1131.9 1121.5 1134.5 1123.2 1137.0 C1124.8 1139.6 1126.5 1142.2 1128.2 1144.7 C1129.8 1147.3 1131.5 1149.9 1133.2 1152.4 C1134.8 1155.0 1136.5 1157.5 1138.2 1160.1 C1139.8 1162.6 1141.5 1165.2 1143.1 1167.7 C1144.8 1170.2 1146.5 1172.7 1148.1 1175.2 C1149.8 1177.7 1151.5 1180.1 1153.1 1182.5 C1154.8 1185.0 1156.4 1187.3 1158.1 1189.8 C1159.8 1192.2 1161.4 1194.6 1163.1 1197.0 C1164.8 1199.4 1166.4 1201.8 1168.1 1204.2 C1169.8 1206.5 1171.4 1208.9 1173.1 1211.2 C1174.7 1213.5 1176.4 1215.9 1178.1 1218.2 C1179.7 1220.5 1181.4 1222.8 1183.1 1225.1 C1184.7 1227.4 1186.4 1229.8 1188.1 1232.1 C1189.7 1234.4 1191.4 1236.7 1193.0 1238.9 C1194.7 1241.1 1196.4 1243.3 1198.0 1245.4 C1199.7 1247.6 1201.4 1249.8 1203.0 1252.0 C1204.7 1254.2 1206.4 1256.4 1208.0 1258.4 C1209.7 1260.5 1211.3 1262.5 1213.0 1264.6 C1214.7 1266.6 1216.3 1268.6 1218.0 1270.5 C1219.7 1272.5 1221.3 1274.4 1223.0 1276.3 C1224.7 1278.1 1226.3 1279.9 1228.0 1281.7 C1229.6 1283.4 1231.3 1285.1 1233.0 1286.8 C1234.6 1288.5 1236.3 1290.1 1238.0 1291.8 C1239.6 1293.5 1241.3 1295.1 1242.9 1296.8 C1244.6 1298.5 1246.3 1300.2 1247.9 1301.8 C1249.6 1303.4 1251.3 1305.0 1252.9 1306.5 C1254.6 1308.0 1256.3 1309.4 1257.9 1310.8 C1259.6 1312.3 1261.2 1313.7 1262.9 1315.0 C1264.6 1316.4 1266.2 1317.7 1267.9 1319.0 C1269.6 1320.3 1271.2 1321.4 1272.9 1322.6 C1274.6 1323.7 1276.2 1324.8 1277.9 1325.9 C1279.5 1327.0 1281.2 1328.1 1282.9 1329.1 C1284.5 1330.1 1286.2 1331.0 1287.9 1331.8 C1289.5 1332.7 1291.2 1333.3 1292.9 1334.0 C1294.5 1334.7 1296.2 1335.3 1297.8 1336.0 C1299.5 1336.6 1301.2 1337.2 1302.8 1337.8 C1304.5 1338.3 1306.2 1338.8 1307.8 1339.2 C1309.5 1339.6 1311.2 1339.8 1312.8 1340.0 C1314.5 1340.2 1316.1 1340.3 1317.8 1340.5 C1319.5 1340.6 1321.1 1340.7 1322.8 1340.7 C1324.5 1340.8 1326.1 1340.8 1327.8 1340.7 C1329.4 1340.7 1331.1 1340.6 1332.8 1340.5 C1334.4 1340.4 1336.1 1340.2 1337.8 1340.0 C1339.4 1339.8 1341.1 1339.5 1342.8 1339.2 C1344.4 1338.9 1346.1 1338.5 1347.7 1338.1 C1349.4 1337.7 1351.1 1337.3 1352.7 1336.8 C1354.4 1336.3 1356.1 1335.8 1357.7 1335.2 C1359.4 1334.6 1361.1 1334.0 1362.7 1333.3 C1364.4 1332.6 1366.0 1331.9 1367.7 1331.1 C1369.4 1330.3 1371.9 1329.1 1372.7 1328.7"/>
</g>
<path class="s6" d="M1395.0 499.3 H1504.0"/><path class="f" d="M1552.0 499.8 L1487.0 485.3 Q1496.0 493.3 1500.0 499.3 L1487.0 513.8 Q1510.0 506.3 1552.0 499.8 Z"/>
<path class="s6" d="M1457.0 1067.0 H1512.0"/><path class="f" d="M1560.0 1067.5 L1495.0 1053.0 Q1504.0 1061.0 1508.0 1067.0 L1495.0 1081.5 Q1518.0 1074.0 1560.0 1067.5 Z"/>
<path class="s6" d="M1450.0 1582.8 H1504.5"/><path class="f" d="M1552.5 1583.3 L1487.5 1568.8 Q1496.5 1576.8 1500.5 1582.8 L1487.5 1597.3 Q1510.5 1589.8 1552.5 1583.3 Z"/>
<path class="s6" d="M84.7 842 V957"/>
<path class="f" d="M84.8 769 L69 854.5 Q78 842 84.8 839 Q92 842 101 854.5 Z"/>
<text class="n" text-anchor="middle" transform="translate(108.0 197.0)"><tspan class="pl" x="0.0" y="0">+</tspan><tspan text-anchor="start" letter-spacing="1.25" x="10.62" y="0">10</tspan></text>
<text class="n" text-anchor="middle" transform="translate(148.4 454.0)"><tspan x="0.0" y="0">0</tspan></text>
<text class="n" text-anchor="middle" transform="translate(107.5 714.7)"><tspan class="hy" x="0.0" y="4.5">-</tspan><tspan text-anchor="start" letter-spacing="1.75" x="11.12" y="0">10</tspan></text>
<text class="n" text-anchor="middle" transform="translate(130.5 869.5)"><tspan class="pl" x="0.0" y="0">+</tspan><tspan x="19.5" y="0">6</tspan></text>
<text class="n" text-anchor="middle" transform="translate(148.6 1022.5)"><tspan x="0.0" y="0">0</tspan></text>
<text class="n" text-anchor="middle" transform="translate(123.5 1178.5)"><tspan class="hy" x="0.0" y="4.5">-</tspan><tspan x="20.5" y="0">6</tspan></text>
<text class="n" text-anchor="middle" transform="translate(107.5 1277.0)"><tspan class="pl" x="0.0" y="0">+</tspan><tspan text-anchor="start" letter-spacing="1.25" x="10.62" y="0">10</tspan></text>
<text class="n" text-anchor="middle" transform="translate(148.4 1543.3)"><tspan x="0.0" y="0">0</tspan></text>
<text class="n" text-anchor="middle" transform="translate(106.0 1798.0)"><tspan class="hy" x="0.0" y="4.5">-</tspan><tspan text-anchor="start" letter-spacing="1.75" x="11.12" y="0">10</tspan></text>
<text class="n" text-anchor="middle" transform="translate(1043.7 328.6)"><tspan class="pl" x="0.0" y="0">+</tspan><tspan x="19.5" y="0">5</tspan></text>
<text class="n" text-anchor="middle" transform="translate(746.2 479.0)"><tspan class="hy" x="0.0" y="4.5">-</tspan><tspan class="dt" x="20.5" y="0">.</tspan><tspan x="41.0" y="0">3</tspan></text>
<text class="n" text-anchor="middle" transform="translate(611.5 838.0)"><tspan class="hy" x="0.0" y="4.5">-</tspan><tspan text-anchor="start" letter-spacing="1.25" x="10.62" y="0">15</tspan></text>
<text class="n" text-anchor="middle" transform="translate(740.2 988.4)"><tspan class="pl" x="0.0" y="0">+</tspan><tspan x="20.5" y="0">3</tspan><tspan class="dt" x="41.0" y="0">.</tspan><tspan x="61.5" y="0">5</tspan></text>
<text class="n" text-anchor="middle" transform="translate(614.5 1152.0)"><tspan class="hy" x="0.0" y="4.5">-</tspan><tspan x="20.5" y="0">5</tspan></text>
<text class="n" text-anchor="middle" transform="translate(995.0 1144.7)"><tspan class="hy" x="0.0" y="4.5">-</tspan><tspan x="20.5" y="0">5</tspan></text>
<text class="n" text-anchor="middle" transform="translate(1025.5 1280.0)"><tspan class="pl" x="0.0" y="0">+</tspan><tspan text-anchor="start" letter-spacing="1.45" x="10.82" y="0">10</tspan></text>
<text class="n" text-anchor="middle" transform="translate(740.5 1635.0)"><tspan class="hy" x="0.0" y="4.5">-</tspan><tspan x="20.5" y="0">3</tspan><tspan class="dt" x="41.0" y="0">.</tspan><tspan x="61.5" y="0">8</tspan></text>
<text class="n" text-anchor="middle" transform="translate(624.0 1804.0)"><tspan class="hy" x="0.0" y="4.5">-</tspan><tspan text-anchor="start" letter-spacing="1.75" x="11.12" y="0">10</tspan></text>
<text class="m" transform="translate(307.5 768.6) scale(1.000 1.090)">Composite</text>
<text class="m" transform="translate(305.5 812.0) scale(1.000 1.090)">Wave <tspan x="104.5">C</tspan></text>
<text class="m" transform="translate(329.0 1115.3) scale(1.000 1.090)">Wave B</text>
<text class="m" transform="translate(292.0 1764.0) scale(1.000 1.090)">Wave <tspan x="123.0">A</tspan></text>
<text class="m" transform="translate(1305.0 508.8) scale(1.000 1.090)">Time</text>
<text class="m" transform="translate(1369.0 1075.4) scale(1.000 1.090)">Time</text>
<text class="m" transform="translate(1362.5 1594.0) scale(1.000 1.090)">Time</text>
<text class="m" transform="translate(89.8 1118.0) rotate(-90) scale(1.036 1.090)">Dollars</text>
<text class="r" transform="translate(275.0 674.6)">составная</text>
<text class="r" transform="translate(275.0 712.0)">волна С</text>
<text class="r" transform="translate(327.0 1172.3)">волна В</text>
<text class="r" transform="translate(293.5 1817.5)">волна А</text>
<text class="r" transform="translate(1309.0 560.3)">время</text>
<text class="r" transform="translate(1380.0 1133.4)">время</text>
<text class="r" transform="translate(1362.5 1650.8)">время</text>
<text class="r" transform="translate(45.5 1117.5) rotate(-90) scale(0.935 1)">Доллары</text>
</svg>
</body>
</html>
